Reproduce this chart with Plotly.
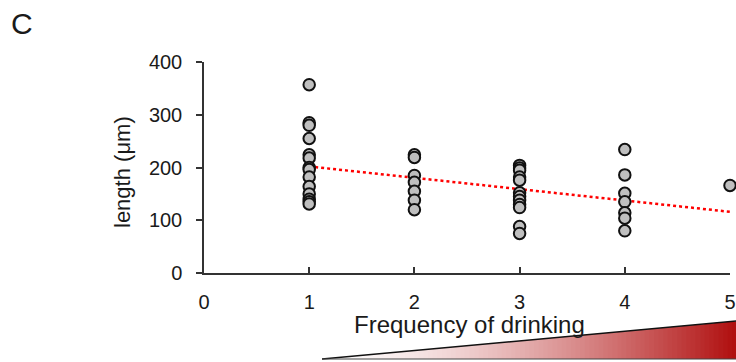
import plotly.graph_objects as go

# ---- data ----
freq1 = [357, 285, 280, 255, 224, 218, 200, 196, 182, 164, 150, 140, 135, 131]
freq2 = [224, 219, 185, 172, 155, 138, 120]
freq3 = [204, 199, 195, 182, 176, 152, 145, 138, 130, 124, 88, 75]
freq4 = [234, 186, 151, 135, 114, 104, 80]
freq5 = [166]
groups = [1, 2, 3, 4, 5]
trend_x = [1, 5]
trend_y = [202, 116]
x_ticks = [0, 1, 2, 3, 4, 5]
y_ticks = [0, 100, 200, 300, 400]

xs, ys = [], []
for g, vals in zip(groups, [freq1, freq2, freq3, freq4, freq5]):
    xs += [g] * len(vals)
    ys += vals

FONT = "Arial, Liberation Sans, sans-serif"
W, H = 736, 362
L, R, T, B = 204, 6, 62, 89
PW, PH = W - L - R, H - T - B


def px2paper(px, py):
    return (px - L) / PW, (H - B - py) / PH


fig = go.Figure()
fig.add_trace(go.Scatter(
    x=trend_x, y=trend_y, mode="lines",
    line=dict(color="#ff0000", width=2.5, dash="dot"),
    hoverinfo="skip", showlegend=False))
fig.add_trace(go.Scatter(
    x=xs, y=ys, mode="markers", cliponaxis=False,
    marker=dict(size=11.5, color="#bfbfbf", line=dict(color="#111111", width=2)),
    showlegend=False))

# ---- gradient wedge (decoration) ----
shapes = []
x0p, x1p, ybot, ytop = 322, 737, 359, 321
N = 90
for i in range(N):
    a = x0p + (x1p - x0p) * i / N
    b = x0p + (x1p - x0p) * (i + 1) / N + 0.8
    ta = ybot - (ybot - ytop) * (a - x0p) / (x1p - x0p)
    tb = ybot - (ybot - ytop) * (min(b, x1p) - x0p) / (x1p - x0p)
    t = ((i + 0.5) / N) ** 1.5
    r = int(255 - t * (255 - 176))
    gg = int(255 - t * (255 - 14))
    bb = int(255 - t * (255 - 14))
    pa = px2paper(a, ybot)
    pb = px2paper(b, ybot)
    pta = px2paper(a, ta)
    ptb = px2paper(b, tb)
    path = f"M {pa[0]},{pa[1]} L {pb[0]},{pb[1]} L {ptb[0]},{ptb[1]} L {pta[0]},{pta[1]} Z"
    shapes.append(dict(type="path", xref="paper", yref="paper", path=path,
                       fillcolor=f"rgb({r},{gg},{bb})", line=dict(width=0), layer="above"))
p1 = px2paper(x0p, ybot)
p2 = px2paper(x1p, ytop)
p3 = px2paper(x1p, ybot)
shapes.append(dict(type="line", xref="paper", yref="paper", x0=p1[0], y0=p1[1], x1=p2[0], y1=p2[1],
                   line=dict(color="#111111", width=1.5)))
shapes.append(dict(type="line", xref="paper", yref="paper", x0=p1[0], y0=p1[1], x1=p3[0], y1=p3[1],
                   line=dict(color="#444444", width=1.2)))

ax_xt = px2paper(469, 324)
ax_yt = px2paper(122, 172)
ax_c = px2paper(22, 24)

fig.update_layout(
    width=W, height=H,
    margin=dict(l=L, r=R, t=T, b=B, autoexpand=False),
    paper_bgcolor="white", plot_bgcolor="white",
    font=dict(family=FONT, color="#1a1a1a"),
    shapes=shapes,
    xaxis=dict(range=[0, 5], tickvals=x_ticks, ticktext=[str(v) for v in x_ticks],
               automargin=False,
               showline=True, linecolor="#333333", linewidth=1.5,
               ticks="inside", ticklen=6, tickwidth=1.5, tickcolor="#333333",
               showgrid=False, zeroline=False, tickfont=dict(size=20, family=FONT),
               ticklabelstandoff=10),
    yaxis=dict(range=[0, 400], tickvals=y_ticks, automargin=False,
               showline=True, linecolor="#333333", linewidth=1.5,
               ticks="outside", ticklen=6, tickwidth=1.5, tickcolor="#333333",
               showgrid=False, zeroline=False, tickfont=dict(size=20, family=FONT),
               ticklabelstandoff=10),
    annotations=[
        dict(text="Frequency of drinking", xref="paper", yref="paper",
             x=ax_xt[0], y=ax_xt[1], showarrow=False, xanchor="center", yanchor="middle",
             font=dict(size=24, family=FONT, color="#1a1a1a")),
        dict(text="length (μm)", xref="paper", yref="paper", textangle=-90,
             x=ax_yt[0], y=ax_yt[1], showarrow=False, xanchor="center", yanchor="middle",
             font=dict(size=22, family=FONT, color="#1a1a1a")),
        dict(text="C", xref="paper", yref="paper",
             x=ax_c[0], y=ax_c[1], showarrow=False, xanchor="center", yanchor="middle",
             font=dict(size=30, family=FONT, color="#1a1a1a")),
    ],
)

fig.write_html("out.html", config={"displayModeBar": False},
               post_script="document.body.style.margin='0';document.body.style.overflow='hidden';")
